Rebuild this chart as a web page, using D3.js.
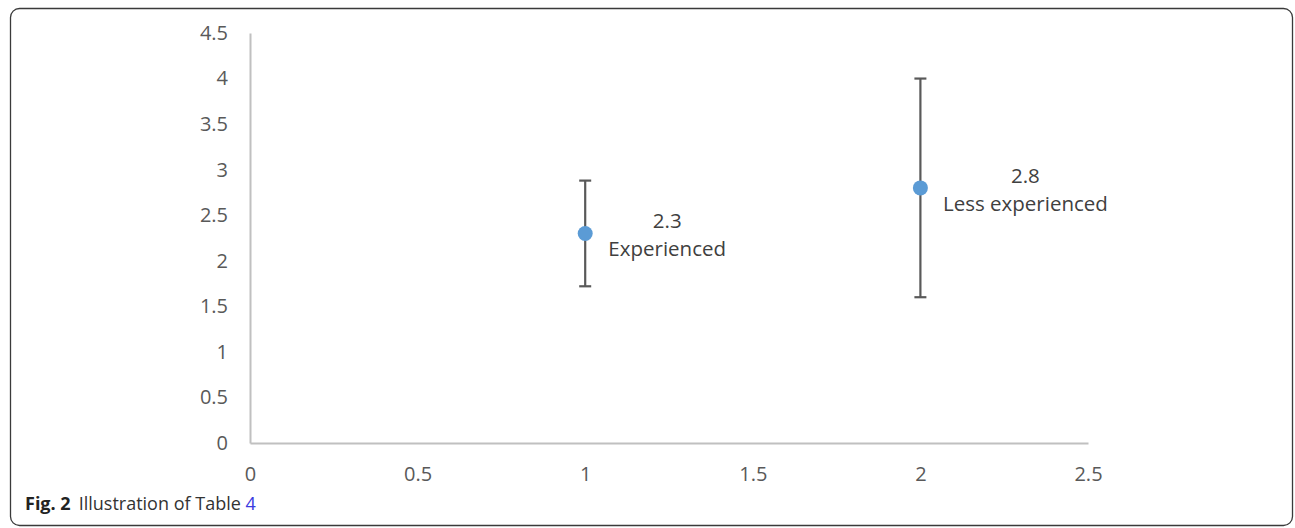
<!DOCTYPE html>
<html>
<head>
<meta charset="utf-8">
<script src="https://cdn.jsdelivr.net/npm/d3@7"></script>
<style>
  html, body { margin: 0; padding: 0; background: #fff; }
  svg { display: block; }
</style>
</head>
<body>
<svg id="chart" width="1295" height="528"></svg>
<script>
// Group means with error ranges
const groups = ["Experienced", "Less experienced"];
const xPositions = [1, 2];
const means = [2.3, 2.8];
const errLow = [1.72, 1.6];
const errHigh = [2.88, 4.0];

const xTicks = [0, 0.5, 1, 1.5, 2, 2.5];
const yTicks = [0, 0.5, 1, 1.5, 2, 2.5, 3, 3.5, 4, 4.5];

const svg = d3.select("#chart");
const W = 1295, H = 528;

// Figure frame
svg.append("rect")
  .attr("x", 10.5).attr("y", 8.5)
  .attr("width", W - 13).attr("height", H - 11)
  .attr("rx", 9).attr("ry", 9)
  .attr("fill", "none").attr("stroke", "#3a3a3a").attr("stroke-width", 1.3);

const x = d3.scaleLinear().domain([0, 2.5]).range([250, 1088]);
const y = d3.scaleLinear().domain([0, 4.5]).range([443, 33]);

const font = "'Open Sans', 'Noto Sans', sans-serif";

// Y axis
const yAxis = svg.append("g")
  .attr("transform", `translate(${x(0)},0)`)
  .call(d3.axisLeft(y).tickValues(yTicks).tickSize(0).tickPadding(22).tickFormat(d3.format("~g")));
yAxis.select(".domain").attr("stroke", "#c0c0c0").attr("stroke-width", 2);
yAxis.selectAll("text").attr("fill", "#595959").style("font-family", font).style("font-size", "20px");

// X axis
const xAxis = svg.append("g")
  .attr("transform", `translate(0,${y(0)})`)
  .call(d3.axisBottom(x).tickValues(xTicks).tickSize(0).tickPadding(24).tickFormat(d3.format("~g")));
xAxis.select(".domain").attr("stroke", "#c0c0c0").attr("stroke-width", 2);
xAxis.selectAll("text").attr("fill", "#595959").style("font-family", font).style("font-size", "20px");

const data = groups.map((g, i) => ({
  name: g, x: xPositions[i], mean: means[i], lo: errLow[i], hi: errHigh[i]
}));

// Error bars
const eb = svg.append("g").attr("stroke", "#595959").attr("stroke-width", 2.2);
eb.selectAll("line.v").data(data).join("line")
  .attr("class", "v")
  .attr("x1", d => x(d.x)).attr("x2", d => x(d.x))
  .attr("y1", d => y(d.lo)).attr("y2", d => y(d.hi));
eb.selectAll("line.top").data(data).join("line")
  .attr("class", "top")
  .attr("x1", d => x(d.x) - 6).attr("x2", d => x(d.x) + 6)
  .attr("y1", d => y(d.hi)).attr("y2", d => y(d.hi));
eb.selectAll("line.bot").data(data).join("line")
  .attr("class", "bot")
  .attr("x1", d => x(d.x) - 6).attr("x2", d => x(d.x) + 6)
  .attr("y1", d => y(d.lo)).attr("y2", d => y(d.lo));

// Mean markers
svg.append("g").selectAll("circle").data(data).join("circle")
  .attr("cx", d => x(d.x)).attr("cy", d => y(d.mean))
  .attr("r", 7.5).attr("fill", "#5b9bd5");

// Data labels: value above group name, to the right of the marker
const lbl = svg.append("g")
  .style("font-family", font).style("font-size", "20.5px").attr("fill", "#404040")
  .attr("text-anchor", "middle");
const labelOffset = [82, 105];
data.forEach((d, i) => {
  const cx = x(d.x) + labelOffset[i];
  const cy = y(d.mean);
  lbl.append("text").attr("x", cx).attr("y", cy - 5).text(d3.format(".1f")(d.mean));
  lbl.append("text").attr("x", cx).attr("y", cy + 23).text(d.name);
});

// Caption
const cap = svg.append("text")
  .attr("x", 25).attr("y", 510)
  .style("font-family", font).style("font-size", "18px").attr("fill", "#222");
cap.append("tspan").attr("font-weight", "bold").text("Fig. 2");
cap.append("tspan").attr("dx", 8).attr("fill", "#333").text("Illustration of Table ");
cap.append("tspan").attr("fill", "#3a3adf").text("4");
</script>
</body>
</html>
